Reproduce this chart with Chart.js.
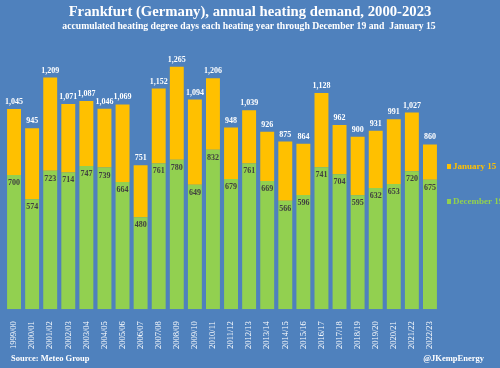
<!DOCTYPE html>
<html>
<head>
<meta charset="utf-8">
<script src="https://cdn.jsdelivr.net/npm/chart.js@4"></script>
<style>
  html, body { margin: 0; padding: 0; background: #4f81bd; }
  #wrap { width: 500px; height: 368px; position: relative; }
</style>
</head>
<body>
<div id="wrap"><canvas id="heatchart"></canvas></div>
<script>
// heating years
const years = ["1999/00","2000/01","2001/02","2002/03","2003/04","2004/05","2005/06","2006/07",
  "2007/08","2008/09","2009/10","2010/11","2011/12","2012/13","2013/14","2014/15","2015/16",
  "2016/17","2017/18","2018/19","2019/20","2020/21","2021/22","2022/23"];
// degree days through December 19
const dec19 = [700,574,723,714,747,739,664,480,761,780,649,832,679,761,669,566,596,741,704,595,632,653,720,675];
// degree days through January 15 (total)
const jan15Total = [1045,945,1209,1071,1087,1046,1069,751,1152,1265,1094,1206,948,1039,926,875,864,1128,962,900,931,991,1027,860];

const extra = jan15Total.map((t, i) => t - dec19[i]);
const serif = "'Liberation Serif', 'DejaVu Serif', serif";

const labelPlugin = {
  id: "valueLabels",
  afterDatasetsDraw(chart) {
    const ctx = chart.ctx;
    const green = chart.getDatasetMeta(0).data;
    const orange = chart.getDatasetMeta(1).data;
    ctx.save();
    ctx.textAlign = "center";
    ctx.font = "bold 8px " + serif;
    green.forEach((bar, i) => {
      ctx.fillStyle = "#404040";
      ctx.textBaseline = "top";
      ctx.fillText(dec19[i], bar.x, bar.y + 4);
      ctx.fillStyle = "#ffffff";
      ctx.textBaseline = "bottom";
      ctx.fillText(jan15Total[i].toLocaleString("en-US"), orange[i].x, orange[i].y - 3);
    });
    // titles
    ctx.textBaseline = "middle";
    ctx.fillStyle = "#ffffff";
    ctx.font = "bold 14.7px " + serif;
    ctx.fillText("Frankfurt (Germany), annual heating demand, 2000-2023", 250, 12);
    ctx.font = "bold 9.7px " + serif;
    ctx.fillText("accumulated heating degree days each heating year through December 19 and  January 15", 249, 26);
    // legend
    ctx.textAlign = "left";
    ctx.font = "bold 9px " + serif;
    ctx.fillStyle = "#ffc000";
    ctx.fillRect(447, 164, 4, 5);
    ctx.fillText("January 15", 453, 167);
    ctx.fillStyle = "#92d050";
    ctx.fillRect(447, 199, 4, 5);
    ctx.fillText("December 19", 453, 202);
    // footer
    ctx.fillStyle = "#ffffff";
    ctx.font = "bold 8.5px " + serif;
    ctx.fillText("Source: Meteo Group", 11, 359);
    ctx.textAlign = "right";
    ctx.fillText("@JKempEnergy", 484, 359);
    ctx.restore();
  }
};

new Chart(document.getElementById("heatchart"), {
  type: "bar",
  data: {
    labels: years,
    datasets: [
      { label: "December 19", data: dec19, backgroundColor: "#92d050", borderWidth: 0 },
      { label: "January 15", data: extra, backgroundColor: "#ffc000", borderWidth: 0 }
    ]
  },
  options: {
    responsive: true,
    maintainAspectRatio: false,
    animation: false,
    datasets: { bar: { categoryPercentage: 1, barPercentage: 0.77 } },
    layout: { padding: { left: 5, right: 61, top: 41, bottom: 15 } },
    scales: {
      x: {
        stacked: true,
        grid: { display: false },
        border: { display: false },
        ticks: { color: "#ffffff", minRotation: 90, maxRotation: 90, padding: 4,
          font: { family: serif, size: 8.5 } }
      },
      y: { stacked: true, display: false, min: 0, max: 1400 }
    },
    plugins: {
      legend: { display: false },
      tooltip: { enabled: false },
      title: { display: false },
      subtitle: { display: false }
    }
  },
  plugins: [labelPlugin]
});
</script>
</body>
</html>
